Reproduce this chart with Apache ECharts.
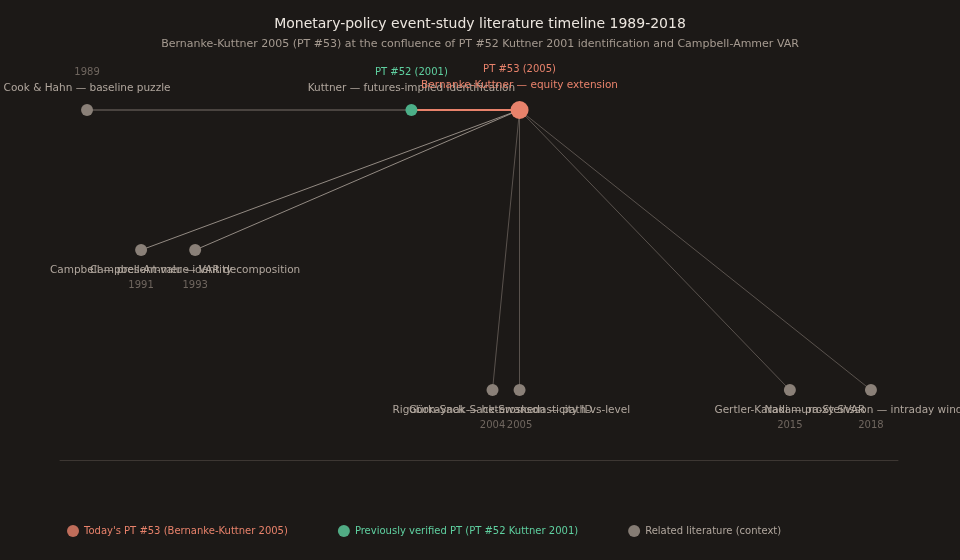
<!DOCTYPE html>
<html><head><meta charset="utf-8">
<script src="https://cdn.jsdelivr.net/npm/echarts@6/dist/echarts.min.js"></script>
<style>html,body{margin:0;background:#1c1917}#c{width:960px;height:560px}</style>
</head><body><div id="c"></div>
<script>
const years = [1989, 1991, 1993, 2001, 2004, 2005, 2005, 2015, 2018];
const rows = [3, 2, 2, 3, 1, 1, 3, 1, 1];
const names = ['Cook & Hahn — baseline puzzle','Campbell — present-value identity','Campbell-Ammer — VAR decomposition','Kuttner — futures-implied identification','Rigobon-Sack — heteroskedasticity ID','Gürkaynak-Sack-Swanson — path-vs-level','Bernanke-Kuttner — equity extension','Gertler-Karadi — proxy SVAR','Nakamura-Steinsson — intraday window'];
const kinds = ['ctx','ctx','ctx','prev','ctx','ctx','today','ctx','ctx'];
const tags = ['1989','1991','1993','PT #52 (2001)','2004','2005','PT #53 (2005)','2015','2018'];
const links = [[0,3],[3,6],[6,1],[6,2],[6,4],[6,5],[6,7],[6,8]];
const col = {today:'#e8826b', prev:'#4caf88', ctx:'#8a8078'};
const tagCol = {today:'#e8826b', prev:'#5fd0a0', ctx:'#6f665f'};
const nodes = years.map((y,i)=>{
  const k = kinds[i], top = rows[i]===3;
  return {name:'n'+i, value:[y, rows[i]], symbolSize: k==='today'?18:(k==='prev'?12:12),
    itemStyle:{color:col[k]},
    label:{show:true, position: top?'top':'bottom', distance:top?8:6,
      formatter: top ? '{t|'+tags[i]+'}\n{n|'+names[i]+'}' : '{n|'+names[i]+'}\n{t|'+tags[i]+'}',
      rich:{t:{color:tagCol[k], fontSize:10, lineHeight:15, align:'center'},
            n:{color:k==='today'?'#e8826b':'#b0a69d', fontSize:10.5, lineHeight:16, align:'center'}}}};
});
const edges = links.map(([a,b],i)=>({source:'n'+a, target:'n'+b,
  lineStyle: i===0?{color:'#4a4440',width:2,opacity:1}: i===1?{color:'#e8826b',width:2,opacity:1}:
    {color: (b===1||b===2)?'#b0a69d':'#8a8078', width:(b===1||b===2)?1:0.7, opacity:0.8}}));
const chart = echarts.init(document.getElementById('c'));
chart.setOption({
  backgroundColor:'#1c1917',
  textStyle:{fontFamily:'DejaVu Sans'},
  title:{text:'Monetary-policy event-study literature timeline 1989-2018',
    subtext:'Bernanke-Kuttner 2005 (PT #53) at the confluence of PT #52 Kuttner 2001 identification and Campbell-Ammer VAR',
    left:'center', top:12, itemGap:8,
    textStyle:{color:'#ece6df', fontSize:14, fontWeight:'normal'},
    subtextStyle:{color:'#a59a90', fontSize:11}},
  grid:{left:60, right:62, top:40, bottom:100},
  xAxis:{type:'value', min:1988, max:2019, interval:5,
    axisLabel:{color:'#6f665f', fontSize:10, formatter:v=>v%5===0?v:''},
    axisLine:{lineStyle:{color:'#3d3733'}}, axisTick:{show:false}, splitLine:{show:false}},
  yAxis:{type:'value', min:0.5, max:3.5, show:false},
  legend:{bottom:18, left:62, itemGap:50, icon:'circle', itemWidth:12, itemHeight:12,
    data:[{name:"Today's PT #53 (Bernanke-Kuttner 2005)", textStyle:{color:'#e8826b'}},
          {name:'Previously verified PT (PT #52 Kuttner 2001)', textStyle:{color:'#5fd0a0'}},
          {name:'Related literature (context)', textStyle:{color:'#b0a69d'}}],
    textStyle:{fontSize:10}},
  series:[
    {type:'graph', coordinateSystem:'cartesian2d', data:nodes, links:edges, z:3, silent:true},
    {type:'scatter', name:"Today's PT #53 (Bernanke-Kuttner 2005)", data:[], itemStyle:{color:col.today}},
    {type:'scatter', name:'Previously verified PT (PT #52 Kuttner 2001)', data:[], itemStyle:{color:'#5fd0a0'}},
    {type:'scatter', name:'Related literature (context)', data:[], itemStyle:{color:'#a0958c'}}
  ]
});
</script></body></html>
